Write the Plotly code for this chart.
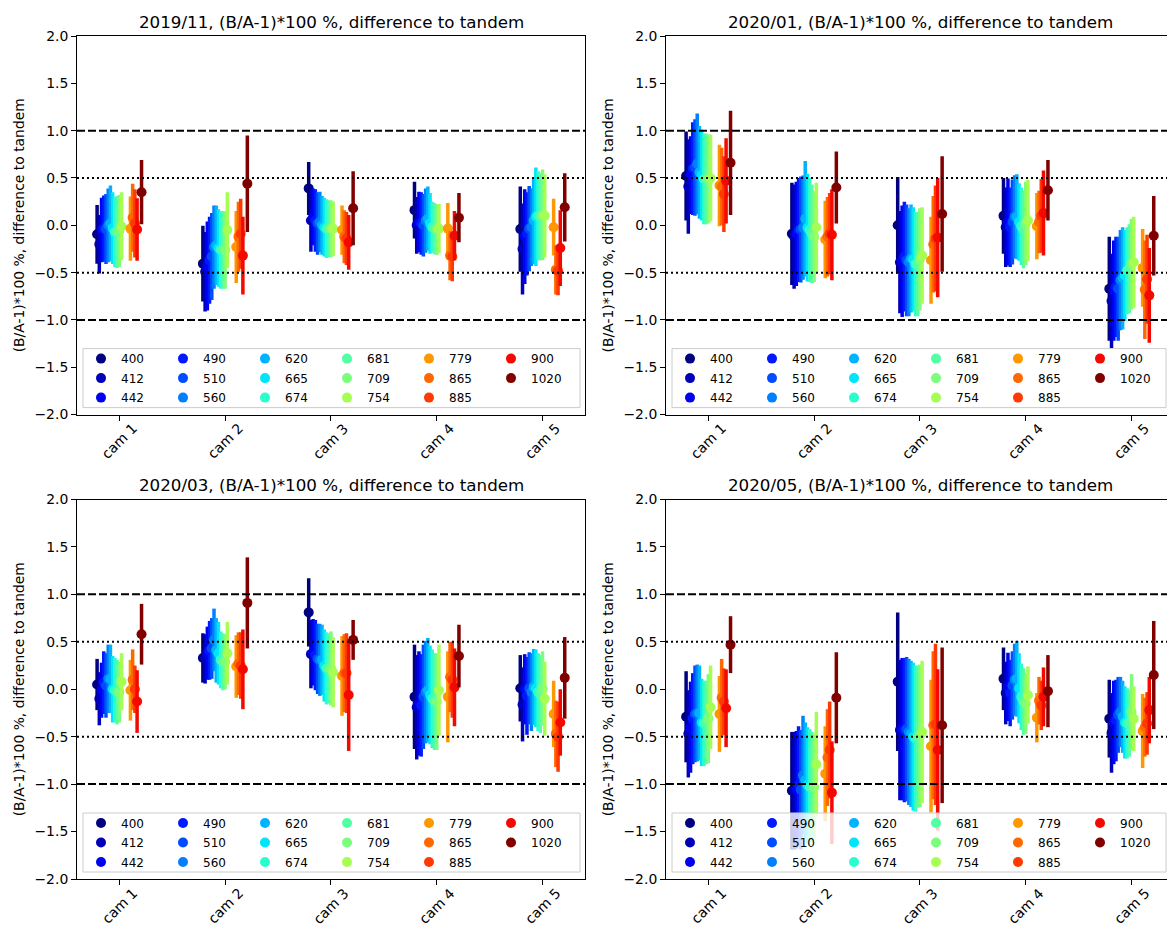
import plotly.graph_objects as go

# ---------------- data ----------------
ALL_BANDS = [400, 412, 442, 490, 510, 560, 620, 665, 674, 681, 709, 754,
             761, 764, 767, 779, 865, 885, 900, 940, 1020]
BANDS = [400, 412, 442, 490, 510, 560, 620, 665, 674, 681, 709, 754,
         779, 865, 885, 900, 1020]
CAMS = ["cam 1", "cam 2", "cam 3", "cam 4", "cam 5"]
MONTHS = ["2019/11", "2020/01", "2020/03", "2020/05"]

# rows = cameras, columns = BANDS
DIFF_2019_11 = [
    [-0.095, -0.20, -0.05, -0.035, -0.04, 0.0, 0.02, -0.03, -0.07, -0.07, -0.06, -0.01, -0.035, 0.08, 0.02, -0.045, 0.35],
    [-0.405, -0.49, -0.43, -0.37, -0.33, -0.23, -0.21, -0.24, -0.26, -0.26, -0.26, -0.05, -0.23, -0.12, -0.09, -0.32, 0.44],
    [0.39, 0.05, 0.09, 0.05, 0.02, 0.035, 0.0, -0.02, -0.035, -0.035, -0.035, -0.035, -0.05, -0.12, -0.14, -0.18, 0.18],
    [0.16, 0.0, 0.035, 0.02, 0.0, 0.05, 0.07, 0.02, -0.02, -0.035, -0.045, -0.035, -0.035, -0.32, -0.33, -0.11, 0.08],
    [-0.04, -0.25, -0.12, -0.09, -0.035, -0.02, 0.05, 0.09, 0.10, 0.09, 0.11, 0.10, -0.02, -0.47, -0.48, -0.24, 0.19],
]
ERR_2019_11 = [
    [0.31, 0.31, 0.34, 0.35, 0.37, 0.39, 0.40, 0.38, 0.37, 0.38, 0.38, 0.36, 0.34, 0.36, 0.36, 0.33, 0.34],
    [0.40, 0.42, 0.47, 0.46, 0.46, 0.44, 0.42, 0.41, 0.41, 0.41, 0.41, 0.40, 0.38, 0.37, 0.37, 0.41, 0.51],
    [0.28, 0.33, 0.30, 0.33, 0.33, 0.32, 0.31, 0.31, 0.31, 0.30, 0.30, 0.29, 0.26, 0.28, 0.28, 0.29, 0.39],
    [0.30, 0.30, 0.32, 0.33, 0.33, 0.34, 0.34, 0.32, 0.27, 0.27, 0.27, 0.26, 0.27, 0.26, 0.26, 0.26, 0.26],
    [0.45, 0.48, 0.50, 0.44, 0.45, 0.41, 0.46, 0.52, 0.47, 0.46, 0.48, 0.44, 0.30, 0.26, 0.26, 0.40, 0.36],
]

DIFF_2020_01 = [
    [0.52, 0.41, 0.53, 0.60, 0.61, 0.65, 0.56, 0.53, 0.49, 0.49, 0.49, 0.50, 0.42, 0.41, 0.33, 0.47, 0.66],
    [-0.09, -0.12, -0.09, -0.05, -0.045, -0.025, 0.07, -0.025, -0.05, -0.09, -0.12, -0.02, -0.15, -0.12, -0.09, -0.10, 0.40],
    [0.0, -0.39, -0.38, -0.33, -0.37, -0.39, -0.35, -0.36, -0.41, -0.41, -0.36, -0.32, -0.37, -0.20, -0.14, -0.13, 0.12],
    [0.10, -0.02, 0.035, -0.02, 0.035, 0.09, 0.09, 0.035, -0.01, -0.045, 0.02, 0.05, -0.01, 0.035, 0.10, 0.13, 0.37],
    [-0.67, -0.80, -0.69, -0.65, -0.67, -0.58, -0.56, -0.53, -0.48, -0.46, -0.41, -0.39, -0.45, -0.68, -0.57, -0.74, -0.11],
]
ERR_2020_01 = [
    [0.47, 0.50, 0.41, 0.49, 0.51, 0.53, 0.49, 0.48, 0.48, 0.48, 0.47, 0.46, 0.43, 0.41, 0.40, 0.45, 0.55],
    [0.54, 0.55, 0.55, 0.55, 0.56, 0.55, 0.61, 0.57, 0.55, 0.52, 0.48, 0.47, 0.41, 0.42, 0.43, 0.48, 0.38],
    [0.51, 0.54, 0.59, 0.58, 0.59, 0.57, 0.57, 0.55, 0.55, 0.55, 0.54, 0.51, 0.46, 0.51, 0.56, 0.63, 0.61],
    [0.40, 0.42, 0.46, 0.42, 0.45, 0.44, 0.45, 0.41, 0.41, 0.41, 0.44, 0.43, 0.35, 0.33, 0.39, 0.45, 0.32],
    [0.55, 0.50, 0.53, 0.53, 0.55, 0.53, 0.54, 0.48, 0.46, 0.47, 0.48, 0.48, 0.41, 0.52, 0.47, 0.50, 0.42],
]

DIFF_2020_03 = [
    [0.05, -0.10, -0.01, 0.07, 0.04, 0.11, 0.11, 0.0, -0.01, -0.03, -0.03, 0.08, -0.01, 0.10, 0.0, -0.13, 0.58],
    [0.33, 0.32, 0.38, 0.41, 0.43, 0.52, 0.41, 0.38, 0.31, 0.29, 0.29, 0.38, 0.24, 0.27, 0.25, 0.21, 0.91],
    [0.81, 0.37, 0.39, 0.36, 0.32, 0.31, 0.31, 0.25, 0.22, 0.22, 0.22, 0.18, 0.14, 0.17, 0.17, -0.06, 0.52],
    [-0.08, -0.19, -0.15, -0.17, -0.08, -0.03, -0.01, -0.06, -0.10, -0.13, -0.13, -0.01, -0.08, 0.13, 0.10, 0.02, 0.35],
    [0.01, -0.16, 0.0, -0.07, 0.01, -0.03, 0.025, 0.01, -0.03, -0.05, 0.01, -0.10, -0.26, -0.47, -0.50, -0.35, 0.12],
]
ERR_2020_03 = [
    [0.27, 0.28, 0.29, 0.33, 0.34, 0.36, 0.36, 0.35, 0.34, 0.34, 0.32, 0.30, 0.32, 0.32, 0.25, 0.33, 0.32],
    [0.26, 0.26, 0.28, 0.31, 0.32, 0.33, 0.34, 0.33, 0.30, 0.30, 0.29, 0.33, 0.33, 0.33, 0.35, 0.42, 0.48],
    [0.36, 0.36, 0.35, 0.37, 0.37, 0.38, 0.37, 0.38, 0.38, 0.37, 0.39, 0.37, 0.42, 0.41, 0.42, 0.59, 0.21],
    [0.55, 0.55, 0.55, 0.54, 0.55, 0.54, 0.55, 0.52, 0.52, 0.51, 0.51, 0.48, 0.48, 0.37, 0.40, 0.41, 0.33],
    [0.35, 0.39, 0.37, 0.41, 0.38, 0.41, 0.40, 0.41, 0.41, 0.41, 0.39, 0.39, 0.35, 0.35, 0.37, 0.35, 0.43],
]

DIFF_2020_05 = [
    [-0.29, -0.47, -0.40, -0.31, -0.26, -0.25, -0.25, -0.35, -0.36, -0.35, -0.31, -0.19, -0.26, -0.09, -0.13, -0.20, 0.47],
    [-1.07, -1.07, -1.06, -1.01, -1.06, -0.91, -0.96, -1.01, -1.03, -1.03, -1.03, -0.79, -0.89, -0.72, -0.64, -1.09, -0.09],
    [0.08, -0.43, -0.42, -0.43, -0.42, -0.45, -0.47, -0.50, -0.52, -0.50, -0.49, -0.45, -0.60, -0.38, -0.37, -0.64, -0.38],
    [0.11, -0.04, 0.025, -0.04, 0.04, 0.10, 0.11, 0.01, -0.08, -0.13, -0.15, -0.06, -0.30, -0.12, -0.17, -0.08, -0.02],
    [-0.31, -0.46, -0.35, -0.33, -0.27, -0.24, -0.29, -0.35, -0.36, -0.36, -0.24, -0.31, -0.44, -0.40, -0.36, -0.22, 0.15],
]
ERR_2020_05 = [
    [0.48, 0.46, 0.48, 0.48, 0.51, 0.51, 0.50, 0.46, 0.45, 0.44, 0.47, 0.44, 0.40, 0.41, 0.35, 0.41, 0.30],
    [0.62, 0.62, 0.62, 0.62, 0.63, 0.63, 0.61, 0.61, 0.61, 0.58, 0.56, 0.55, 0.50, 0.51, 0.51, 0.54, 0.48],
    [0.73, 0.74, 0.75, 0.76, 0.76, 0.77, 0.77, 0.78, 0.77, 0.75, 0.75, 0.75, 0.70, 0.78, 0.85, 0.85, 0.82],
    [0.33, 0.33, 0.36, 0.35, 0.36, 0.38, 0.40, 0.37, 0.35, 0.35, 0.32, 0.30, 0.26, 0.25, 0.26, 0.31, 0.38],
    [0.41, 0.42, 0.44, 0.43, 0.40, 0.37, 0.38, 0.38, 0.37, 0.35, 0.40, 0.34, 0.39, 0.31, 0.33, 0.35, 0.57],
]

PANELS = [(DIFF_2019_11, ERR_2019_11), (DIFF_2020_01, ERR_2020_01),
          (DIFF_2020_03, ERR_2020_03), (DIFF_2020_05, ERR_2020_05)]

# ---------------- styling helpers ----------------
W, H = 1168, 926
FONT = "DejaVu Sans"


def jet(t):
    def seg(pts):
        for (x0, y0), (x1, y1) in zip(pts[:-1], pts[1:]):
            if x0 <= t <= x1:
                return y0 + (y1 - y0) * (t - x0) / (x1 - x0) if x1 > x0 else y1
        return pts[-1][1]
    r = seg([(0, 0), (0.35, 0), (0.66, 1), (0.89, 1), (1, 0.5)])
    g = seg([(0, 0), (0.125, 0), (0.375, 1), (0.64, 1), (0.91, 0), (1, 0)])
    b = seg([(0, 0.5), (0.11, 1), (0.34, 1), (0.65, 0), (1, 0)])
    return "rgb(%d,%d,%d)" % (round(r * 255), round(g * 255), round(b * 255))


def px_x(x):
    return x / W


def px_y(y):
    return 1 - y / H


COLS = [(77, 585), (666, 1167)]
ROWS = [(36, 414.6), (499.5, 879)]
CAM_PX = 105.8  # pixels per camera step
STEP = 0.021    # offset per band slot

fig = go.Figure()
layout = dict(width=W, height=H,
              margin=dict(l=0, r=0, t=0, b=0, autoexpand=False),
              paper_bgcolor="white", plot_bgcolor="white",
              font=dict(family=FONT, size=13.9, color="black"),
              showlegend=True)
shapes = []
annotations = []

legend_id = 0
for k, (diff, err) in enumerate(PANELS):
    r, c = divmod(k, 2)
    xl, xr = COLS[c]
    yt, yb = ROWS[r]
    ax = "" if k == 0 else str(k + 1)
    xref, yref = "x" + ax, "y" + ax
    xmax = -0.4 + (xr - xl) / CAM_PX

    layout["xaxis" + ax] = dict(
        domain=[px_x(xl), px_x(xr)], anchor=yref, range=[-0.4, xmax],
        tickmode="array", tickvals=list(range(len(CAMS))), ticktext=CAMS,
        showticklabels=False, automargin=False,
        ticks="outside", ticklen=5, tickwidth=1, tickcolor="black",
        showline=True, linecolor="black", linewidth=1, mirror=True,
        showgrid=False, zeroline=False)
    layout["yaxis" + ax] = dict(
        domain=[px_y(yb), px_y(yt)], anchor=xref, range=[-2, 2],
        tickmode="linear", tick0=-2, dtick=0.5, tickformat=".1f",
        ticks="outside", ticklen=5, tickwidth=1, tickcolor="black",
        showline=True, linecolor="black", linewidth=1, mirror=(c == 0),
        showgrid=False, zeroline=False, tickfont=dict(size=13.9),
        automargin=False,
        title=dict(text="(B/A-1)*100 %, difference to tandem",
                   font=dict(size=13.9), standoff=6))

    # rotated category labels, centred under each tick
    for ci, cam in enumerate(CAMS):
        annotations.append(dict(
            text=cam, x=ci, xref=xref, y=px_y(yb + 3), yref="paper",
            xanchor="center", yanchor="top", textangle=-45, showarrow=False,
            font=dict(size=13.9, family=FONT, color="black")))

    # title
    annotations.append(dict(
        text=MONTHS[k] + ", (B/A-1)*100 %, difference to tandem",
        x=px_x(xl + 254), y=px_y(yt - 14), xref="paper", yref="paper",
        xanchor="center", yanchor="middle", showarrow=False,
        font=dict(size=16.7, family=FONT, color="black")))

    # reference lines
    for yv, dash in [(1, "8px,3px"), (-1, "8px,3px"), (0.5, "2px,3px"), (-0.5, "2px,3px")]:
        shapes.append(dict(type="line", xref=xref + " domain", x0=0, x1=1,
                           yref=yref, y0=yv, y1=yv,
                           line=dict(color="black", width=2, dash=dash), layer="above"))

    # legend frame
    fl, fr = xl + 6, min(xl + 503, W - 2)
    ft, fbt = yb - 66, yb - 7
    shapes.append(dict(type="rect", xref="paper", yref="paper",
                       x0=px_x(fl), x1=px_x(fr), y0=px_y(fbt), y1=px_y(ft),
                       fillcolor="rgba(255,255,255,0.8)",
                       line=dict(color="#cccccc", width=1), layer="above"))

    # three legend rows
    row_names = []
    for rr in range(3):
        legend_id += 1
        name = "legend" if legend_id == 1 else "legend%d" % legend_id
        row_names.append(name)
        layout[name] = dict(
            orientation="h", x=px_x(fl - 2), xanchor="left",
            y=px_y(ft + 10 + 19.5 * rr), yanchor="middle",
            bgcolor="rgba(0,0,0,0)", borderwidth=0,
            entrywidth=37, entrywidthmode="pixels",
            font=dict(size=12, family=FONT, color="black"),
            itemclick=False, itemdoubleclick=False)

    for j, band in enumerate(BANDS):
        slot = ALL_BANDS.index(band)
        col = jet(slot / (len(ALL_BANDS) - 1))
        xs = [ci + (slot - 10) * STEP for ci in range(len(CAMS))]
        ys = [diff[ci][j] for ci in range(len(CAMS))]
        es = [err[ci][j] for ci in range(len(CAMS))]
        fig.add_trace(go.Scatter(
            x=xs, y=ys, mode="markers", name=str(band),
            xaxis=xref, yaxis=yref, legend=row_names[j % 3],
            marker=dict(color=col, size=10, line=dict(width=0)),
            error_y=dict(type="data", array=es, visible=True,
                         color=col, thickness=3.5, width=0),
            showlegend=True))

layout["shapes"] = shapes
layout["annotations"] = annotations
fig.update_layout(**layout)
fig.write_html("out.html")
